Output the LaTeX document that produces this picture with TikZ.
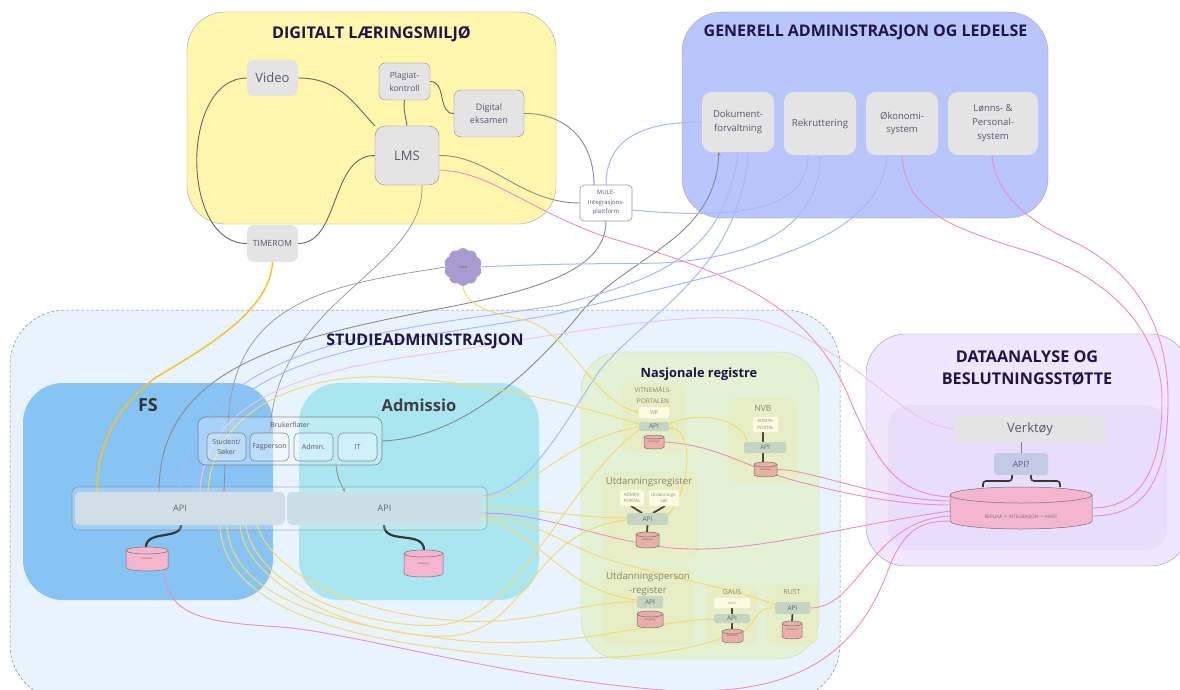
\documentclass[tikz,border=0pt]{standalone}
\usepackage{fontspec}
\setmainfont{Open Sans}
\usetikzlibrary{shapes.symbols,arrows.meta}
\pgfdeclarelayer{regions}
\pgfdeclarelayer{lines}
\pgfsetlayers{regions,lines,main}
\definecolor{ink}{HTML}{201546}
\definecolor{lab}{HTML}{5C5672}
\definecolor{gline}{HTML}{8A8A8A}
\definecolor{bline}{HTML}{A8B8FB}
\definecolor{pline}{HTML}{F08CC0}
\definecolor{yline}{HTML}{F4DA70}
\definecolor{gold}{HTML}{F6C52A}
\definecolor{pinkdb}{HTML}{F4B6CF}
\definecolor{salmondb}{HTML}{E9AFA6}
\definecolor{regapi}{HTML}{C5D5C4}
\definecolor{olive}{HTML}{4A4A30}
\definecolor{groupfill}{HTML}{E7EEC6}
\definecolor{minibox}{HTML}{FAFBE0}
\definecolor{reglab}{HTML}{85896F}
\tikzset{
 every node/.style={inner sep=0pt,outer sep=0pt,align=center,text=lab},
 graybox/.style={rounded corners=7pt,fill=black!10.5},
 wbox/.style={rounded corners=4pt,fill=white,draw=black!40,line width=.6pt},
 glassbox/.style={rounded corners=5pt,fill=white,fill opacity=.25,text opacity=1,draw=black!60,draw opacity=.7,line width=.6pt},
 groupbox/.style={rounded corners=9pt,fill=groupfill},
 regbox/.style={rounded corners=1.5pt,fill=regapi,text=black!60,font=\fontsize{6.5}{8}\selectfont},
 mini/.style={rounded corners=1.5pt,fill=minibox,text=black!45,font=\fontsize{4.5}{6.5}\selectfont},
 title/.style={font=\fontsize{16.2}{22}\selectfont\bfseries,text=ink},
 grouptxt/.style={text=reglab},
 gl/.style={draw=gline,line width=.9pt},
 dgl/.style={draw=black!60,line width=.9pt},
 lgl/.style={draw=black!42,line width=.7pt},
 bl/.style={draw=bline,line width=1pt},
 pl/.style={draw=pline,line width=.9pt},
 lpl/.style={draw=pline!55,line width=.9pt},
 yl/.style={draw=yline,line width=1pt},
 goldl/.style={draw=gold,line width=1.5pt},
 heavy/.style={draw=black!78,line width=2.2pt},
 oliveln/.style={draw=olive,line width=1.8pt},
 tip/.style={-{Stealth[length=4pt,width=3.5pt]}},
 ytip/.style={-{Stealth[length=4pt,width=4pt]}},
 dbbody/.style={fill=#1,draw=black!55,line width=.5pt},
}
\newcommand{\bx}[7]{\node[#6,minimum width={(#4-#2)*1pt},minimum height={(#5-#3)*1pt}] (#1) at ({(#2+#4)/2},{(#3+#5)/2}) {#7};}
\newcommand{\fsz}[2]{\fontsize{#1}{#2}\selectfont}
% \db{name}{x1}{y1}{x2}{y2}{colour}{ry}{label}
\newcommand{\db}[8]{%
 \pgfmathsetmacro{\dbrx}{(#4-#2)/2}%
 \path[dbbody=#6] (#2,#3+#7) -- (#2,#5-#7) arc[start angle=180,end angle=360,x radius=\dbrx pt,y radius=#7pt] -- (#4,#3+#7) arc[start angle=0,end angle=180,x radius=\dbrx pt,y radius=#7pt] -- cycle;
 \path[draw=black!55,line width=.5pt] (#2,#3+#7) arc[start angle=180,end angle=360,x radius=\dbrx pt,y radius=#7pt];
 \node[minimum width={(#4-#2)*1pt},minimum height={(#5-#3)*1pt},font=\fsz{2.5}{3},text=black!60] (#1) at ({(#2+#4)/2},{(#3+#5)/2}) {#8};}
\begin{document}
\begin{tikzpicture}[x=1pt,y=-1pt]
\useasboundingbox (0,0) rectangle (1180,690);
\clip (0,0) rectangle (1180,690);
% ---------- regions
\begin{pgfonlayer}{regions}
\fill[white] (0,0) rectangle (1180,690);
\path[rounded corners=38pt,draw=black!35,fill={rgb,255:red,255;green,246;blue,174}] (187,12) rectangle (556,224);
\path[rounded corners=40pt,draw=black!35,fill={rgb,255:red,185;green,198;blue,251}] (682,12) rectangle (1048,218);
\path[rounded corners=55pt,draw=black!45,densely dashed,line width=.5pt,fill={rgb,255:red,232;green,243;blue,253}] (10,310) rectangle (840,700);
\path[rounded corners=40pt,fill={rgb,255:red,136;green,196;blue,243}] (23,383) rectangle (273,600);
\path[rounded corners=40pt,fill={rgb,255:red,169;green,230;blue,240}] (299,383) rectangle (539,600);
\path[rounded corners=40pt,draw={rgb,255:red,196;green,224;blue,160},fill={rgb,255:red,227;green,241;blue,212}] (581,352) rectangle (819,659);
\path[rounded corners=40pt,draw=black!38,fill={rgb,255:red,240;green,230;blue,253}] (866,334) rectangle (1190,566);
\path[rounded corners=22pt,fill={rgb,255:red,232;green,221;blue,251}] (888,405) rectangle (1167,550);
\bx{gvit}{622}{383}{685}{453}{groupbox}{}
\bx{gnvb}{728}{398}{797}{482}{groupbox}{}
\bx{gutd}{602}{472}{697}{559}{groupbox}{}
\bx{gper}{602}{567}{694}{645}{groupbox}{}
\bx{ggau}{706}{584}{758}{645}{groupbox}{}
\bx{grus}{766}{584}{818}{645}{groupbox}{}
\end{pgfonlayer}
% ---------- titles
\node[title] (tdl) at (371.5,34) {DIGITALT LÆRINGSMILJØ};
\node[title,font=\fsz{16}{22}\bfseries] (tga) at (865.5,32) {GENERELL ADMINISTRASJON OG LEDELSE};
\node[title,font=\fsz{16}{20}\bfseries] (tsa) at (425,341) {STUDIEADMINISTRASJON};
\node[title,font=\fsz{18}{22}\bfseries,text=black!80] (tfs) at (148,405) {FS};
\node[title,font=\fsz{16.5}{22}\bfseries,text=black!75] (tad) at (419,405) {Admissio};
\node[title,font=\fsz{12.8}{16}\bfseries] (tnr) at (699,374) {Nasjonale registre};
\node[title] (tda) at (1027,368) {DATAANALYSE OG\\BESLUTNINGSSTØTTE};
% ---------- top nodes
\bx{video}{247}{60}{298}{96}{graybox,font=\fsz{13}{16}}{Video}
\bx{plag}{379}{63}{430}{100}{graybox,draw=black!45,rounded corners=6pt,font=\fsz{8.5}{13}}{Plagiat-\\kontroll}
\bx{dig}{454}{90}{524}{137}{graybox,draw=black!45,font=\fsz{9}{13}}{Digital\\eksamen}
\bx{lms}{375}{126}{439}{185}{graybox,draw=black!45,rounded corners=10pt,font=\fsz{13}{16}}{LMS}
\bx{time}{247}{225}{298}{262}{graybox,font=\fsz{8.5}{12}}{TIMEROM}
\bx{mule}{580}{185}{632}{221}{wbox,font=\fsz{6}{9.5}}{MULE-\\Integrasjons-\\plattform}
\node[shape=cloud,cloud puffs=10,cloud puff arc=110,aspect=1,fill={rgb,255:red,169;green,155;blue,208},minimum width=38pt,minimum height=38pt,font=\fsz{3}{4}] (fmrix) at (463,267) {FMRIX};
\bx{dok}{702}{92}{774}{152}{graybox,rounded corners=10pt,font=\fsz{9.5}{14}}{Dokument-\\forvaltning}
\bx{rek}{784}{92}{856}{155}{graybox,rounded corners=10pt,font=\fsz{9.7}{12}}{Rekruttering}
\bx{oko}{866}{92}{938}{155}{graybox,rounded corners=10pt,font=\fsz{9.5}{13}}{Økonomi-\\system}
\bx{lonn}{948}{92}{1038}{155}{graybox,rounded corners=10pt,font=\fsz{9.5}{14}}{Lønns- \&\\Personal-\\system}
% ---------- study administration
\bx{bruk}{198}{417}{382}{465}{glassbox,rounded corners=8pt}{}
\node[font=\fsz{7}{9}] (bruklab) at (290,424.5) {Brukerflater};
\bx{stud}{207}{433}{246}{461}{glassbox,font=\fsz{7}{9.5}}{Student/\\Søker}
\bx{fag}{250}{433}{289}{461}{glassbox,font=\fsz{7}{9}}{Fagperson}
\bx{adm}{294}{433}{333}{461}{glassbox,font=\fsz{7}{9}}{Admin.}
\bx{it}{338}{433}{377}{461}{glassbox,font=\fsz{7}{9}}{IT}
\bx{apibox}{72}{487}{487}{530}{glassbox,rounded corners=6pt,fill opacity=.2,draw opacity=.45}{}
\bx{apifs}{75}{492}{285}{525}{rounded corners=5pt,fill={rgb,255:red,209;green,222;blue,230},text=black!60,font=\fsz{9}{12}}{API}
\bx{apiad}{287}{492}{482}{525}{rounded corners=5pt,fill={rgb,255:red,203;green,223;blue,230},text=black!60,font=\fsz{9}{12}}{API}
\db{dbfs}{126}{547}{168}{571}{pinkdb}{3.5}{Database}
\db{dbad}{404}{550}{443}{577}{pinkdb}{3.5}{Database}
% ---------- national registers
\node[grouptxt,font=\fsz{6.5}{11}] (lvit) at (653,395.5) {VITNEMÅLS-\\PORTALEN};
\node[grouptxt,font=\fsz{8.5}{11}] (lnvb) at (763,408) {NVB};
\node[grouptxt,font=\fsz{9.7}{12}] (lutd) at (649,482) {Utdanningsregister};
\node[grouptxt,font=\fsz{9.7}{14}] (lper) at (648,584) {Utdanningsperson\\-register};
\node[grouptxt,font=\fsz{7}{9}] (lgau) at (732,592) {GAUS};
\node[grouptxt,font=\fsz{7}{9}] (lrus) at (792,592) {RUST};
\bx{vip}{639}{407}{669}{418}{mini,font=\fsz{5.5}{7}}{ViP}
\bx{avit}{639}{422}{669}{431}{regbox}{API}
\db{dvit}{644}{435}{664}{449}{salmondb}{2}{Database}
\bx{mnvb}{753}{417}{778}{432}{mini}{ADMIN-\\PORTAL}
\bx{anvb}{744}{442}{786}{453}{regbox}{API}
\db{dnvb}{754}{462}{777}{477}{salmondb}{2.5}{Database}
\bx{mua}{620}{490}{644}{506}{mini}{ADMIN-\\PORTAL}
\bx{mus}{649}{490}{679}{506}{mini}{Utdannings-\\søk}
\bx{autd}{627}{513}{668}{525}{regbox}{API}
\db{dutd}{636}{532}{659}{548}{salmondb}{2.5}{Database}
\bx{aper}{637}{596}{663}{608}{regbox}{API}
\db{dper}{637}{611}{663}{628}{salmondb}{3}{Database}
\bx{mgau}{714}{598}{750}{608}{mini,font=\fsz{3}{4}}{GAUS}
\bx{agau}{714}{614}{750}{623}{regbox}{API}
\db{dgau}{722}{629}{743}{643}{salmondb}{2.5}{Database}
\bx{arus}{775}{602}{810}{614}{regbox}{API}
\db{drus}{782}{621}{802}{639}{salmondb}{2.5}{Database}
% ---------- data analysis
\bx{verk}{954}{416}{1106}{442}{rounded corners=3pt,fill=black!10.5,font=\fsz{13}{16}}{Verktøy}
\bx{apiq}{994}{453}{1048}{475}{rounded corners=3pt,fill={rgb,255:red,195;green,202;blue,229},font=\fsz{8.5}{11}}{API?}
\db{dwh}{950}{487}{1092}{529}{pinkdb}{8}{}
\node[font=\fsz{4.6}{6},text=black!55] (dwhl) at (1021,517) {REPLIKA -> INTEGRASJON -> MART};
% ---------- connectors
\begin{pgfonlayer}{lines}
% grey in learning environment
\draw[dgl] (video.west) .. controls (180,78) and (180,244) .. (time.west);
\draw[dgl] (video.east) .. controls (340,78) and (355,105) .. (lms.north west);
\draw[dgl] (plag.south) .. controls (403,110) and (406,118) .. (lms.north);
\draw[dgl] (plag.east) .. controls (447,81) and (437,114) .. (dig.west);
\draw[gl] (dig.east) .. controls (565,113) and (594,140) .. (594,0 |- mule.north);
\draw[gl] (lms.east) .. controls (490,155) and (520,203) .. (mule.west);
\draw[dgl] (lms.west) .. controls (330,155) and (340,244) .. (time.east);
\draw[lgl] (422,0 |- lms.south) .. controls (425,270) and (275,300) .. (270,0 |- fag.north);
\draw[lgl] (fmrix.west) .. controls (330,285) and (228,300) .. (228,0 |- stud.north);
\draw[gl] (mule.south) .. controls (606,270) and (540,290) .. (433,310) .. controls (280,340) and (159,370) .. (159,0 |- apifs.north);
\draw[gl,tip] (bruk.east) .. controls (460,438) and (530,375) .. (583,310) .. controls (630,255) and (715,240) .. (719,0 |- dok.south);
\draw[gl,tip,line width=.7pt] (225,0 |- bruk.south) -- (224,0 |- apifs.north);
\draw[gl,tip,line width=.7pt] (336,0 |- bruk.south) .. controls (337,478) and (341,484) .. (345,0 |- apiad.north);
% blue
\draw[bl] (mule.north) .. controls (606,140) and (640,122) .. (dok.west);
\draw[bl] (mule.east |- 0,210) .. controls (740,220) and (808,210) .. (808,0 |- rek.south);
\draw[bl] (fmrix.east) .. controls (560,263) and (620,264) .. (660,263) .. controls (760,258) and (820,225) .. (820,0 |- rek.south);
\draw[bl] (738,0 |- dok.south) .. controls (725,260) and (650,280) .. (560,305) .. controls (400,330) and (190,340) .. (180,0 |- apifs.north);
\draw[bl] (887,0 |- oko.south) .. controls (880,250) and (730,270) .. (560,313) .. controls (400,345) and (200,345) .. (193,0 |- apifs.north);
\draw[bl] (748,0 |- dok.south) .. controls (740,270) and (650,310) .. (600,370) .. controls (560,430) and (530,490) .. (apiad.east |- 0,496);
% pink
\draw[lpl] (verk.west) .. controls (900,425) and (860,350) .. (760,320) .. controls (680,310) and (560,335) .. (443,352) .. controls (300,370) and (205,400) .. (200,0 |- apifs.north);
\draw[pl] (lms.east |- 0,170) .. controls (490,172) and (520,205) .. (600,235) .. controls (720,270) and (810,300) .. (850,400) .. controls (880,470) and (900,494) .. (dwh.west |- 0,497);
\draw[pl] (902,0 |- oko.south) .. controls (905,215) and (960,230) .. (1030,252) .. controls (1120,280) and (1162,340) .. (1162,400) .. controls (1162,470) and (1140,508) .. (dwh.east |- 0,508);
\draw[pl] (992,0 |- lonn.south) .. controls (995,195) and (1030,222) .. (1070,240) .. controls (1130,268) and (1168,320) .. (1168,400) .. controls (1168,480) and (1145,516) .. (dwh.east |- 0,516);
\draw[pl] (dnvb.east) .. controls (810,469) and (880,500) .. (dwh.west |- 0,501);
\draw[pl] (dvit.east) .. controls (720,445) and (750,470) .. (800,482) .. controls (850,495) and (900,505) .. (dwh.west |- 0,505);
\draw[pl] (apiad.east |- 0,513) .. controls (540,513) and (590,535) .. (650,545) .. controls (730,560) and (820,530) .. (dwh.west |- 0,511);
\draw[pl] (arus.east) .. controls (860,608) and (870,520) .. (dwh.west |- 0,516);
\draw[pl] (164,0 |- dbfs.south) .. controls (168,615) and (200,622) .. (280,627) .. controls (350,632) and (480,672) .. (640,688) .. controls (800,705) and (860,650) .. (890,565) .. controls (905,530) and (920,521) .. (dwh.west |- 0,521);
% yellow
\draw[goldl] (time.south) .. controls (270,310) and (210,345) .. (155,378) .. controls (120,405) and (97,440) .. (97,0 |- apifs.north);
\draw[yl,ytip] (fmrix.south) .. controls (465,305) and (490,313) .. (520,319) .. controls (570,328) and (590,400) .. (vip.west);
\draw[yl,ytip] (208,0 |- apifs.north) .. controls (212,410) and (300,375) .. (380,377) .. controls (470,380) and (560,400) .. (avit.west |- 0,424);
\draw[yl,ytip] (747,0 |- anvb.north) .. controls (745,425) and (710,408) .. (avit.east |- 0,424);
\draw[yl,ytip] (autd.east |- 0,515) .. controls (690,490) and (695,430) .. (avit.east |- 0,428);
\draw[yl] (apiad.east |- 0,498) .. controls (530,495) and (560,440) .. (avit.west |- 0,427);
\draw[yl] (apiad.east |- 0,507) .. controls (540,509) and (580,518) .. (autd.west |- 0,518);
\draw[yl] (apiad.east |- 0,517) .. controls (540,520) and (550,540) .. (610,560) .. controls (670,578) and (740,590) .. (arus.west |- 0,605);
\draw[yl] (apiad.east |- 0,519) .. controls (540,530) and (560,590) .. (aper.west |- 0,600);
\draw[yl] (220,0 |- apifs.south) .. controls (222,590) and (300,630) .. (440,648) .. controls (560,665) and (660,660) .. (dgau.west |- 0,638);
\draw[yl] (227,0 |- apifs.south) .. controls (230,585) and (300,620) .. (440,638) .. controls (560,655) and (650,620) .. (agau.west |- 0,619);
\draw[yl] (240,0 |- apifs.south) .. controls (245,590) and (370,640) .. (450,636) .. controls (530,630) and (530,530) .. (autd.west |- 0,520);
\draw[yl] (246,0 |- apifs.south) .. controls (255,590) and (370,630) .. (440,625) .. controls (520,618) and (560,490) .. (avit.west |- 0,430);
\draw[yl] (257,0 |- apifs.south) .. controls (275,580) and (370,615) .. (450,620) .. controls (530,628) and (580,600) .. (aper.west |- 0,602);
\draw[yl] (arus.west |- 0,608) .. controls (755,607) and (760,618) .. (dgau.east |- 0,632);
% heavy short links
\draw[heavy] (181,0 |- apifs.south) .. controls (181,540) and (146,530) .. (146,0 |- dbfs.north);
\draw[heavy] (384,0 |- apiad.south) .. controls (384,545) and (424,530) .. (424,0 |- dbad.north);
\draw[oliveln] (763,0 |- mnvb.south) -- (763,0 |- anvb.north);
\draw[oliveln] (763,0 |- anvb.south) -- (763,0 |- dnvb.north);
\draw[oliveln] (631,0 |- mua.south) -- (642,0 |- autd.north);
\draw[oliveln] (665,0 |- mus.south) -- (653,0 |- autd.north);
\draw[oliveln] (autd.south) -- (647,0 |- dutd.north);
\draw[oliveln] (mgau.south) -- (agau.north);
\draw[oliveln] (agau.south) -- (732,0 |- dgau.north);
\draw[oliveln] (arus.south) -- (792,0 |- drus.north);
\draw[draw=black!50,line width=1pt] (1021,0 |- verk.south) -- (1021,0 |- apiq.north);
\draw[heavy,line width=1.6pt,rounded corners=3pt] (1012,0 |- apiq.south) -- (1012,481) -- (983,481) -- (983,0 |- dwh.north);
\draw[heavy,line width=1.6pt,rounded corners=3pt] (1031,0 |- apiq.south) -- (1031,481) -- (1060,481) -- (1060,0 |- dwh.north);
\end{pgfonlayer}
\end{tikzpicture}
\end{document}
